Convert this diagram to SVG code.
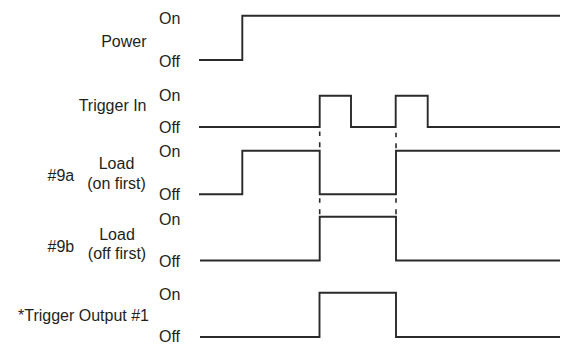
<svg xmlns="http://www.w3.org/2000/svg" width="567" height="344" viewBox="0 0 567 344">
<style>
text{font-family:"Liberation Sans",Arial,sans-serif;font-size:16px;fill:#231f20}
.e{text-anchor:end}.m{text-anchor:middle}
.w{fill:none;stroke:#2b2a2a;stroke-width:1.9}
.d{fill:none;stroke:#2b2a2a;stroke-width:1.6}
</style>
<rect width="567" height="344" fill="#fff"/>
<g id="power">
<text class="e" x="146.5" y="46.5">Power</text>
<text x="159" y="24">On</text>
<text x="159" y="66.5">Off</text>
</g>
<g id="trigger-in">
<text class="e" x="146.5" y="110.5">Trigger In</text>
<text x="159" y="100.5">On</text>
<text x="159" y="132.5">Off</text>
</g>
<g id="load-9a">
<text x="47.5" y="180.5">#9a</text>
<text class="m" x="116.5" y="168.5">Load</text>
<text class="m" x="116.5" y="189">(on first)</text>
<text x="159" y="156.5">On</text>
<text x="159" y="199.5">Off</text>
</g>
<g id="load-9b">
<text x="47.5" y="251.5">#9b</text>
<text class="m" x="117" y="240">Load</text>
<text class="m" x="117" y="259">(off first)</text>
<text x="159" y="224.5">On</text>
<text x="159" y="266.5">Off</text>
</g>
<g id="trigger-output">
<text class="e" x="149" y="320.5">*Trigger Output #1</text>
<text x="159" y="299.5">On</text>
<text x="159" y="341.5">Off</text>
</g>
<g id="connectors">
<polyline class="w" points="199,60 242.3,60 242.3,15.7 560,15.7"/>
<polyline class="w" points="199,127 319.7,127 319.7,95.7 351,95.7 351,127 395.7,127 395.7,95.7 427.7,95.7 427.7,127 560,127"/>
<polyline class="w" points="199,194.3 242.3,194.3 242.3,150.7 319.7,150.7 319.7,194.3 396,194.3 396,150.7 560,150.7"/>
<polyline class="w" points="200,260.5 319.7,260.5 319.7,216.7 396,216.7 396,260.5 560,260.5"/>
<polyline class="w" points="200,337 319.5,337 319.5,292.7 396,292.7 396,337 560,337"/>
<path class="d" d="M319.7,131.5V136M319.7,142.3V147.3M396,132.7V137.3M396,143.3V148.3M319.7,198.3V202.7M319.7,209.3V214.3M396,198.3V202.7M396,209.3V214.3"/>
</g>
</svg>
